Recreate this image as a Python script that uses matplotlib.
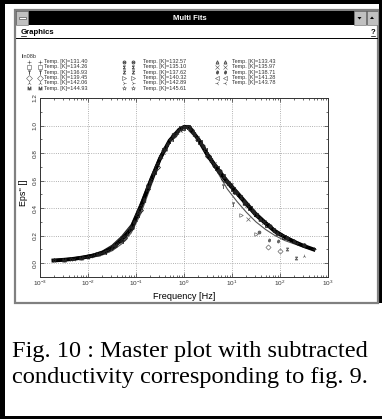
import matplotlib
import numpy as np

matplotlib.use("Agg")
import matplotlib.pyplot as plt
from matplotlib.patches import Polygon, Rectangle

plt.rcParams["font.family"] = ["Liberation Sans", "DejaVu Sans"]
plt.rcParams["mathtext.default"] = "regular"

W, H = 382, 419  # output size [px]

# --- data -------------------------------------------------------------------
temps = [131.40, 132.57, 133.43, 134.26, 135.10, 135.97, 136.93, 137.62, 138.71,
         139.45, 140.32, 141.28, 142.06, 142.89, 143.78, 144.93, 145.61]
markers = ["+", r"$\Theta$", r"$\Delta$", "s", r"$\Sigma$", "x", r"$\top$", r"$Z$",
           r"$\vartheta$", "D", ">", "<", "2", "4", "3", r"$M$", "*"]

# measured frequencies (log10 Hz) and peak frequency of each temperature
meas_logf = [0.0, 0.35, 0.70, 1.05, 1.40, 1.75, 2.10]
log_fmax = [-0.60, -0.39, -0.19, 0.02, 0.22, 0.43, 0.64, 0.84, 1.05,
            1.26, 1.46, 1.67, 1.88, 2.08, 2.29, 2.49, 2.70]
eps_data = [
    [0.73, 0.58, 0.44, 0.31, 0.21, 0.15, 0.10],
    [0.85, 0.67, 0.52, 0.38, 0.27, 0.18, 0.13],
    [0.95, 0.77, 0.60, 0.45, 0.32, 0.22, 0.16],
    [0.98, 0.88, 0.69, 0.54, 0.40, 0.28, 0.19],
    [0.93, 0.98, 0.79, 0.63, 0.48, 0.35, 0.24],
    [0.81, 0.97, 0.91, 0.72, 0.57, 0.42, 0.30],
    [0.64, 0.89, 0.99, 0.83, 0.65, 0.50, 0.36],
    [0.46, 0.77, 0.95, 0.94, 0.75, 0.58, 0.44],
    [0.30, 0.59, 0.86, 0.99, 0.87, 0.67, 0.52],
    [0.18, 0.39, 0.70, 0.93, 0.97, 0.78, 0.61],
    [0.12, 0.25, 0.54, 0.82, 0.98, 0.90, 0.71],
    [0.08, 0.16, 0.35, 0.66, 0.90, 0.99, 0.82],
    [0.057, 0.10, 0.21, 0.47, 0.77, 0.96, 0.94],
    [0.043, 0.072, 0.15, 0.31, 0.61, 0.87, 0.99],
    [0.033, 0.052, 0.093, 0.19, 0.42, 0.73, 0.93],
    [0.025, 0.040, 0.066, 0.13, 0.26, 0.56, 0.83],
    [0.020, 0.030, 0.048, 0.084, 0.17, 0.37, 0.67],
]

# points that fall off the master curve at high frequency
off_idx = [7, 7, 9, 8, 9, 8, 12, 10, 1, 6, 10, 5, 6]
off_logf = [2.14, 2.34, 1.76, 1.78, 1.99, 1.95, 2.50, 1.50, 1.57, 1.02, 1.19, 1.33, 0.81]
off_eps = [0.104, 0.041, 0.12, 0.17, 0.09, 0.16, 0.053, 0.21, 0.23, 0.43, 0.35, 0.32, 0.56]

# fitted curves (normalised frequency)
fit_logf = [-2.72, -2.5, -2.3, -2.1, -1.9, -1.7, -1.5, -1.3, -1.1, -0.9, -0.7, -0.5, -0.3,
            -0.1, 0.0, 0.1, 0.3, 0.5, 0.7, 0.9, 1.1, 1.3, 1.5, 1.7, 1.9, 2.1, 2.3, 2.5, 2.7]
fit_master = [0.020, 0.025, 0.032, 0.042, 0.055, 0.075, 0.11, 0.17, 0.25, 0.41, 0.59, 0.76,
              0.89, 0.97, 0.99, 0.99, 0.90, 0.78, 0.68, 0.59, 0.51, 0.43, 0.35, 0.29, 0.23,
              0.19, 0.155, 0.125, 0.10]
fit_low = [0.015, 0.018, 0.024, 0.032, 0.043, 0.060, 0.09, 0.14, 0.22, 0.36, 0.55, 0.74,
           0.88, 0.97, 0.99, 0.99, 0.90, 0.77, 0.66, 0.54, 0.45, 0.37, 0.30, 0.245, 0.20,
           0.165, 0.14, 0.115, 0.095]
fit_high = [0.025, 0.031, 0.039, 0.050, 0.065, 0.088, 0.13, 0.195, 0.28, 0.44, 0.62, 0.78,
            0.90, 0.97, 0.99, 0.99, 0.91, 0.80, 0.70, 0.61, 0.53, 0.45, 0.37, 0.305, 0.245,
            0.20, 0.165, 0.13, 0.105]

x_decades = [-3, -2, -1, 0, 1, 2, 3]

caption = ["Fig. 10 : Master plot with subtracted",
           "conductivity corresponding to fig. 9."]

# --- figure + window chrome (pixel coordinates) -----------------------------
fig = plt.figure(figsize=(W / 100, H / 100), dpi=100)
bg = fig.add_axes([0, 0, 1, 1], zorder=0)
bg.set_xlim(0, W)
bg.set_ylim(H, 0)
bg.axis("off")

grey = "#c0c0c0"
for x, y, w, h in [(0, 0, 5, H), (0, 0, W, 4), (0, 416, W, 3), (379, 0, 3, 303)]:
    bg.add_patch(Rectangle((x, y), w, h, fc="black", ec="none"))
bg.add_patch(Rectangle((15, 10.5), 362.5, 292, fc="white", ec="#808080", lw=1.6))
bg.add_patch(Rectangle((16, 11), 362, 14, fc="black", ec="none"))
bg.add_patch(Rectangle((16, 11), 12, 14, fc=grey, ec="#808080", lw=0.5))
bg.add_patch(Rectangle((18.5, 17), 7.5, 2.2, fc="white", ec="#555555", lw=0.5))
bg.add_patch(Rectangle((354, 11), 11.5, 14, fc=grey, ec="#808080", lw=0.5))
bg.add_patch(Rectangle((366.5, 11), 11.5, 14, fc=grey, ec="#808080", lw=0.5))
bg.add_patch(Polygon([(357.5, 17), (361.5, 17), (359.5, 19.5)], fc="black"))
bg.add_patch(Polygon([(370, 19), (374, 19), (372, 16.5)], fc="black"))
bg.text(190, 18.3, "Multi Fits", color="white", fontsize=5.5, fontweight="bold",
        ha="center", va="center")
bg.plot([16, 377], [38, 38], color="black", lw=0.7)
bg.text(20.5, 32, "Graphics", fontsize=5.6, fontweight="bold", ha="left", va="center")
bg.plot([20.5, 25.5], [35.6, 35.6], color="black", lw=0.5)
bg.text(372.7, 32, "?", fontsize=5.6, fontweight="bold", ha="center", va="center")
bg.plot([371, 374.5], [35.6, 35.6], color="black", lw=0.5)

# legend block
bg.text(22, 56, "lin08b", fontsize=4, color="#333333", va="center")
col_m1 = [29, 124, 217]
col_m2 = [39.5, 133, 225]
col_tx = [43.5, 143, 232]
for i, (t, m) in enumerate(zip(temps, markers)):
    row, col = divmod(i, 3)
    y = 61.7 + 5.27 * row
    ms = 2.4 if m.startswith("$") else 3.0
    for x in (col_m1[col], col_m2[col]):
        bg.plot(x, y, marker=m, ms=ms, mew=0.4, mfc="none", color="#555555", ls="none")
    bg.text(col_tx[col], y, f"Temp. [K]={t:.2f}", fontsize=4, color="#333333", va="center")

# caption
bg.text(11.7, 356.7, caption[0], family="Liberation Serif", fontsize=17.6, va="baseline")
bg.text(11.7, 383.3, caption[1], family="Liberation Serif", fontsize=17.6, va="baseline")

# --- plot -------------------------------------------------------------------
ax = fig.add_axes([40 / W, 1 - 277 / H, 288 / W, 179 / H], zorder=1)
ax.set_xscale("log")

ff = 10 ** np.array(fit_logf)
ax.plot(ff, fit_low, color="#555555", lw=0.8)
ax.plot(ff, fit_high, color="#222222", lw=0.9)
ax.plot(ff, fit_master, color="black", lw=2.8)

for i, m in enumerate(markers):
    f = 10 ** (np.array(meas_logf) - log_fmax[i])
    ms = 2.4 if m.startswith("$") else 3.0
    ax.plot(f, eps_data[i], ls="none", marker=m, ms=ms, mew=0.6, mfc="none", color="#222222")
for i, lf, e in zip(off_idx, off_logf, off_eps):
    m = markers[i]
    ms = 2.2 if m.startswith("$") else 2.6
    ax.plot(10 ** lf, e, ls="none", marker=m, ms=ms, mew=0.5, mfc="none", color="#666666")

ax.set_xlim(1e-3, 1e3)
ax.set_ylim(-0.1, 1.2)
ax.set_xticks([10.0 ** d for d in x_decades])
ax.set_xticklabels([f"$10^{{{d}}}$" for d in x_decades])
ax.xaxis.set_minor_locator(matplotlib.ticker.LogLocator(base=10, subs=np.arange(2, 10), numticks=20))
ax.xaxis.set_minor_formatter(matplotlib.ticker.NullFormatter())
ax.set_yticks(np.arange(0, 1.21, 0.2))
ax.set_yticks(np.arange(-0.1, 1.21, 0.1), minor=True)
ax.set_yticklabels([f"{v:.1f}" for v in np.arange(0, 1.21, 0.2)], rotation=90, va="center")
ax.grid(True, which="major", ls=":", color="#999999", lw=0.6)
ax.tick_params(which="both", direction="in", top=True, right=True, width=0.5, colors="#333333",
               labelsize=4.6, pad=1.5)
ax.tick_params(which="major", length=3)
ax.tick_params(which="minor", length=1.5)
for s in ax.spines.values():
    s.set_linewidth(0.7)
    s.set_color("#333333")

ax.set_xlabel("Frequency [Hz]", fontsize=6.6)
ax.xaxis.set_label_coords(0.5, -0.082)
fig.text(23 / W, 1 - 193 / H, "Eps'' []", fontsize=6.4, rotation=90, ha="center", va="center")

fig.savefig("out.png", dpi=100)
